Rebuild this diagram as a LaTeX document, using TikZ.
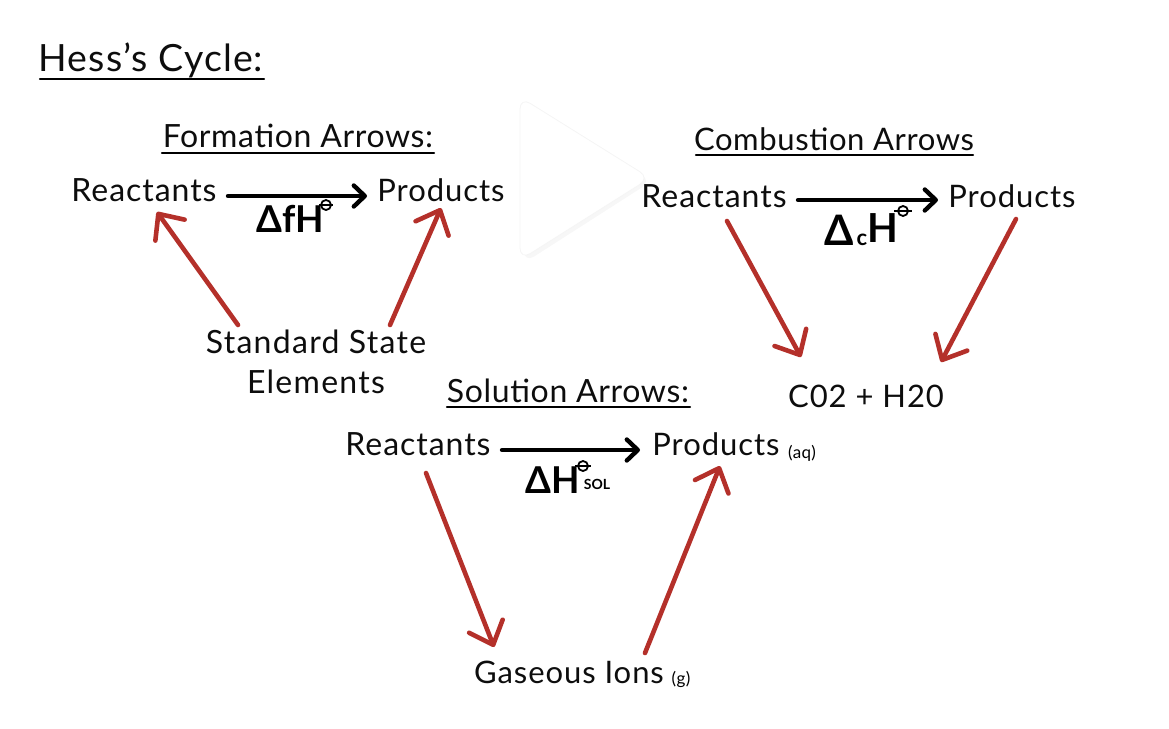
\documentclass[tikz,border=0pt]{standalone}
\usepackage{fontspec}
\setmainfont{Lato}
\usetikzlibrary{arrows.meta}
\definecolor{arrowred}{HTML}{B4302A}
\tikzset{
  txt/.style={inner sep=0pt,font=\fontsize{31}{40}\selectfont\addfontfeatures{LetterSpace=3},text=black!95},
  react/.style={txt,font=\fontsize{32}{40}\selectfont\addfontfeatures{LetterSpace=3}},
  head/.style={txt,font=\fontsize{32}{40}\selectfont\addfontfeatures{LetterSpace=2}},
  big/.style={txt,font=\fontsize{37.5}{40}\selectfont\addfontfeatures{LetterSpace=3}},
  small/.style={inner sep=0pt,font=\fontsize{17}{18}\selectfont\addfontfeatures{LetterSpace=2}},
  dh/.style={inner sep=0pt,font=\fontsize{37}{40}\selectfont\bfseries},
  ul/.style={line width=2.4pt,black,line cap=round},
  rarrow/.style={line width=4.6pt,arrowred,line cap=round,-{Straight Barb[length=20pt,width=36pt,line width=4.6pt,round]}},
  barrow/.style={line width=4.4pt,black,line cap=round,-{Straight Barb[length=11pt,width=21pt,line width=4.4pt,round]}},
  plim/.style={circle,draw=black,line width=1.8pt,inner sep=0pt,minimum size=10pt},
  plimbar/.style={line width=1.8pt,black}
}
\begin{document}
\begin{tikzpicture}[x=1pt,y=-1pt]
\useasboundingbox (0,0) rectangle (1169,728);
% play-button overlay
\fill[black!3,rounded corners=12pt] (522,103) -- (652,181) -- (524,263) -- cycle;
\filldraw[fill=white,draw=black!4,line width=.8pt,rounded corners=12pt] (520,97) -- (650,178) -- (520,260) -- cycle;
% titles
\node[big] (hess) at (151,60) {Hess's Cycle:};
\node[head] (tform) at (298,136) {Formation Arrows:};
\node[head,font=\fontsize{31}{40}\selectfont\addfontfeatures{LetterSpace=2}] (tcomb) at (834,139) {Combustion Arrows};
\node[head] (tsol) at (568,391) {Solution Arrows:};
\draw[ul] ([shift={(-111,19)}]hess.center) -- ([shift={(113,19)}]hess.center);
\draw[ul] ([shift={(-136,17)}]tform.center) -- ([shift={(136,17)}]tform.center);
\draw[ul] ([shift={(-138,16)}]tcomb.center) -- ([shift={(139,16)}]tcomb.center);
\draw[ul] ([shift={(-121,16)}]tsol.center) -- ([shift={(122,16)}]tsol.center);
% formation
\node[react] (r1) at (144,190) {Reactants};
\node[txt] (p1) at (441,190) {Products};
\node[dh] (d1) at (290,219) {ΔfH};
\node[plim] (o1) at (326,205) {};
\draw[plimbar] ([xshift=-7]o1.center) -- ([xshift=7]o1.center);
\node[txt,align=center,font=\fontsize{32}{40}\selectfont\addfontfeatures{LetterSpace=4}] (sse) at (316,362) {Standard State\\Elements};
\draw[barrow] ([shift={(84,6)}]r1.center) -- ([shift={(-74,6)}]p1.center);
\draw[rarrow] ([shift={(-78,-37)}]sse.center) -- ([shift={(13,22)}]r1.center);
\draw[rarrow] ([shift={(74,-37)}]sse.center) -- ([shift={(0,18)}]p1.center);
% combustion
\node[react] (r2) at (714,196) {Reactants};
\node[txt] (p2) at (1012,196) {Products};
\node[dh,font=\fontsize{42}{44}\selectfont\bfseries] (d2a) at (839,230) {Δ};
\node[dh,font=\fontsize{22}{24}\selectfont\bfseries] (d2b) at (862,240) {c};
\node[dh,font=\fontsize{40}{44}\selectfont\bfseries] (d2c) at (883,228) {H};
\node[plim] (o2) at (903,211) {};
\draw[plimbar] ([xshift=-9]o2.center) -- ([xshift=9]o2.center);
\node[txt] (co) at (866,396) {C02 + H20};
\draw[barrow] ([shift={(84,4)}]r2.center) -- ([shift={(-74,4)}]p2.center);
\draw[rarrow] ([shift={(13,25)}]r2.center) -- ([shift={(-65,-39)}]co.center);
\draw[rarrow] ([shift={(4,23)}]p2.center) -- ([shift={(75,-34)}]co.center);
% solution
\node[react] (r3) at (418,444) {Reactants};
\node[txt] (p3) at (716,444) {Products};
\node[small] (aq) at (802,453) {(aq)};
\node[dh] (d3) at (553,480) {ΔH};
\node[small,font=\fontsize{14}{15}\selectfont\bfseries] (sol) at (597,484) {SOL};
\node[plim] (o3) at (583,466) {};
\draw[plimbar] ([xshift=-8]o3.center) -- ([xshift=8]o3.center);
\node[txt] (gas) at (569,672) {Gaseous Ions};
\node[small] (g) at (681,679) {(g)};
\draw[barrow] ([shift={(84,6)}]r3.center) -- ([shift={(-76,6)}]p3.center);
\draw[rarrow] ([shift={(8,29)}]r3.center) -- ([shift={(-75,-25)}]gas.center);
\draw[rarrow] ([shift={(76,-19)}]gas.center) -- ([shift={(4,22)}]p3.center);
\end{tikzpicture}
\end{document}
